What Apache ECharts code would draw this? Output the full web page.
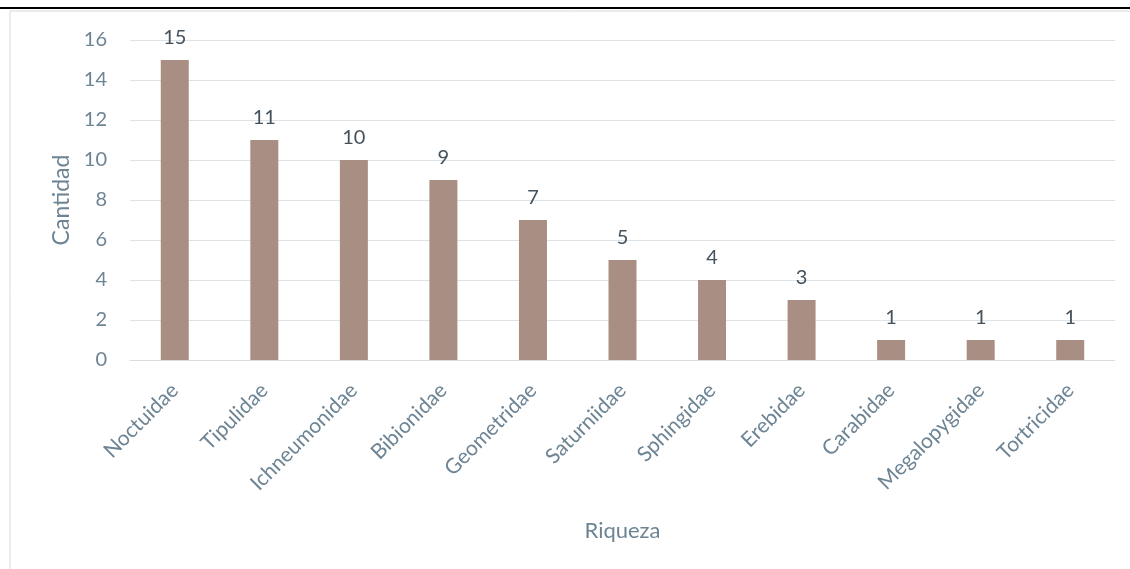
<!DOCTYPE html>
<html>
<head>
<meta charset="utf-8">
<script src="https://cdn.jsdelivr.net/npm/echarts@6/dist/echarts.min.js"></script>
<style>html,body{margin:0;padding:0;background:#fff}#c{width:1130px;height:569px}</style>
</head>
<body>
<div id="c"></div>
<script>
const categories = ['Noctuidae','Tipulidae','Ichneumonidae','Bibionidae','Geometridae','Saturniidae','Sphingidae','Erebidae','Carabidae','Megalopygidae','Tortricidae'];
const values = [15, 11, 10, 9, 7, 5, 4, 3, 1, 1, 1];
const yTicks = [0, 2, 4, 6, 8, 10, 12, 14, 16];
const xTitle = 'Riqueza';
const yTitle = 'Cantidad';

const FONT = 'Lato, "Liberation Sans", sans-serif';
const chart = echarts.init(document.getElementById('c'));
chart.setOption({
  animation: false,
  graphic: [
    { type: 'rect', shape: { x: 0, y: 7, width: 1130, height: 2 }, style: { fill: '#000' }, silent: true },
    { type: 'rect', shape: { x: 10, y: 11, width: 1140, height: 600 }, style: { fill: 'none', stroke: '#d9d9d9', lineWidth: 1 }, silent: true }
  ],
  grid: { left: 130, right: 15, top: 40, bottom: 209, containLabel: false },
  xAxis: {
    type: 'category',
    data: categories,
    name: xTitle,
    nameLocation: 'middle',
    nameGap: 160,
    nameTextStyle: { color: '#6d8494', fontSize: 22, fontFamily: FONT },
    axisLine: { lineStyle: { color: '#d9dde1', width: 1 } },
    axisTick: { show: false },
    axisLabel: { rotate: 45, color: '#6d8494', fontSize: 21, fontFamily: FONT, interval: 0, margin: 27 }
  },
  yAxis: {
    type: 'value',
    min: yTicks[0],
    max: yTicks[yTicks.length - 1],
    interval: 2,
    name: yTitle,
    nameLocation: 'middle',
    nameGap: 54,
    nameRotate: 90,
    nameTextStyle: { color: '#6d8494', fontSize: 23, fontFamily: FONT },
    axisLine: { show: false },
    axisTick: { show: false },
    splitLine: { lineStyle: { color: '#dfe3e7', width: 1 } },
    axisLabel: { color: '#6d8494', fontSize: 20, fontFamily: FONT, margin: 23 }
  },
  series: [{
    type: 'bar',
    data: values,
    barWidth: 28,
    itemStyle: { color: '#a98f83' },
    label: { show: true, position: 'top', distance: 12, color: '#44525e', fontSize: 20, fontFamily: FONT }
  }]
});
</script>
</body>
</html>
